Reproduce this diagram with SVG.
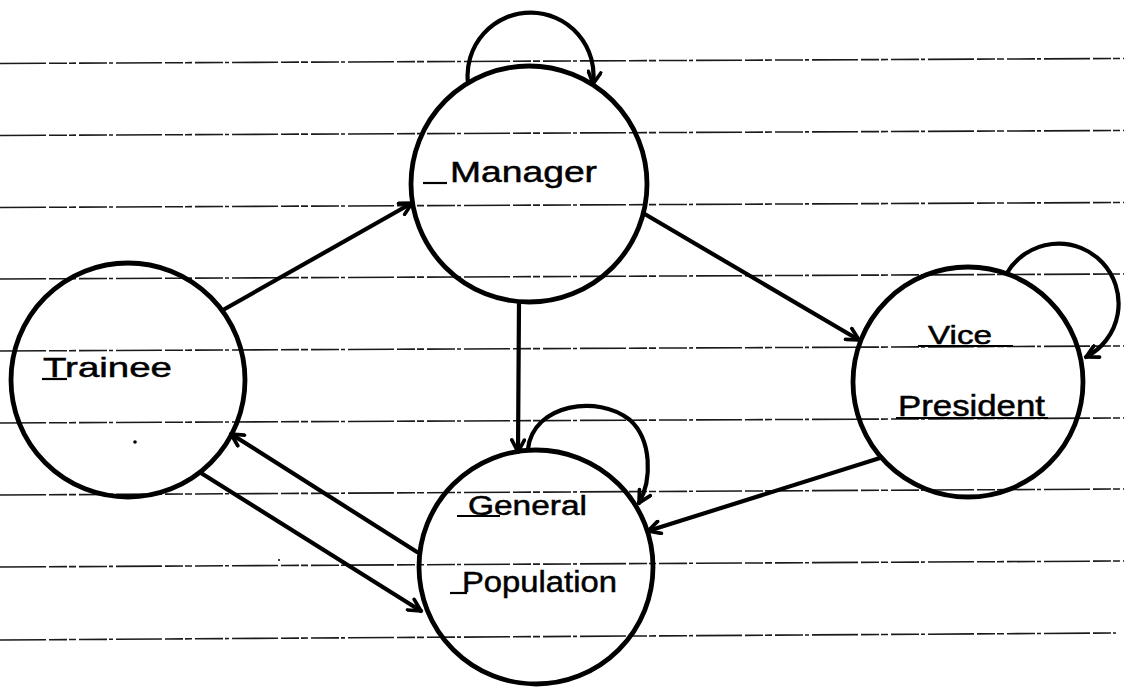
<svg xmlns="http://www.w3.org/2000/svg" width="1124" height="688" viewBox="0 0 1124 688">
  <style>
    .rule { stroke: #1a1a1a; stroke-width: 1.6; fill: none; stroke-dasharray: 46 3 18 2 7 3 28 2 4 3; }
    .state { fill: none; stroke: #000; stroke-width: 4.8; }
    .edge { fill: none; stroke: #000; stroke-width: 4.2; stroke-linecap: round; marker-end: url(#head); }
    .label { font-family: "Liberation Sans", Arial, sans-serif; fill: #000; stroke: #000; stroke-width: 0.5; }
    .ul { stroke: #000; stroke-width: 2.2; }
  </style>
  <defs>
    <marker id="head" viewBox="0 0 14 14" refX="12.5" refY="7" markerWidth="16" markerHeight="16" markerUnits="userSpaceOnUse" orient="auto">
      <path d="M2,1.5 L12.5,7 L2,12.5" fill="none" stroke="#000" stroke-width="3.2" stroke-linecap="round" stroke-linejoin="round"/>
    </marker>
  </defs>

  <rect width="1124" height="688" fill="#fff"/>

  <!-- notebook ruling -->
  <g id="ruling">
    <line class="rule" x1="0" y1="63.5" x2="1124" y2="58.5"/>
    <line class="rule" x1="0" y1="135.5" x2="1124" y2="130.5"/>
    <line class="rule" x1="0" y1="207.5" x2="1124" y2="202.5"/>
    <line class="rule" x1="0" y1="279" x2="1124" y2="274"/>
    <line class="rule" x1="0" y1="351" x2="1124" y2="346"/>
    <line class="rule" x1="0" y1="423" x2="1124" y2="418"/>
    <line class="rule" x1="0" y1="495" x2="1124" y2="489"/>
    <line class="rule" x1="0" y1="567" x2="1124" y2="561"/>
    <line class="rule" x1="0" y1="640" x2="1116" y2="633"/>
  </g>

  <!-- transitions -->
  <g id="connectors">
    <path class="edge" d="M223,310 L412,203"/>
    <path class="edge" d="M643,213 L859,340"/>
    <path class="edge" d="M519,302 L518,452"/>
    <path class="edge" d="M880,458 L648,531"/>
    <path class="edge" d="M417,552 L231,434"/>
    <path class="edge" d="M201,473 L421,611"/>
    <!-- self loops -->
    <path class="edge" d="M468,83 A63,63 0 1 1 593,84"/>
    <path class="edge" d="M1007,273 A60,60 0 1 1 1086,357"/>
    <path class="edge" d="M528,449 C533,404 598,394 630,420 C652,440 652,480 639,503"/>
  </g>

  <g id="manager">
    <circle class="state" cx="529" cy="184" r="118"/>
    <line class="ul" x1="423" y1="183" x2="447" y2="183"/>
    <text class="label" x="450" y="182" font-size="30" textLength="147" lengthAdjust="spacingAndGlyphs">Manager</text>
  </g>

  <g id="trainee">
    <circle class="state" cx="128" cy="380" r="117"/>
    <line class="ul" x1="42" y1="379" x2="67" y2="379"/>
    <text class="label" x="43" y="377" font-size="28" textLength="129" lengthAdjust="spacingAndGlyphs">Trainee</text>
    <circle cx="135" cy="442" r="1.8" fill="#000"/>
  </g>

  <g id="vice-president">
    <circle class="state" cx="968" cy="382" r="115"/>
    <line class="ul" x1="918" y1="346" x2="1013" y2="346"/>
    <text class="label" x="928" y="344" font-size="26" textLength="64" lengthAdjust="spacingAndGlyphs">Vice</text>
    <line class="ul" x1="896" y1="418" x2="1048" y2="418"/>
    <text class="label" x="898" y="416" font-size="30" textLength="147" lengthAdjust="spacingAndGlyphs">President</text>
  </g>

  <g id="general-population">
    <circle class="state" cx="536" cy="567" r="117"/>
    <line class="ul" x1="457" y1="516" x2="500" y2="516"/>
    <text class="label" x="468" y="515" font-size="27" textLength="119" lengthAdjust="spacingAndGlyphs">General</text>
    <line class="ul" x1="450" y1="593" x2="467" y2="593"/>
    <text class="label" x="462" y="592" font-size="30" textLength="155" lengthAdjust="spacingAndGlyphs">Population</text>
    <circle cx="279" cy="560" r="1" fill="#000"/>
  </g>
</svg>
